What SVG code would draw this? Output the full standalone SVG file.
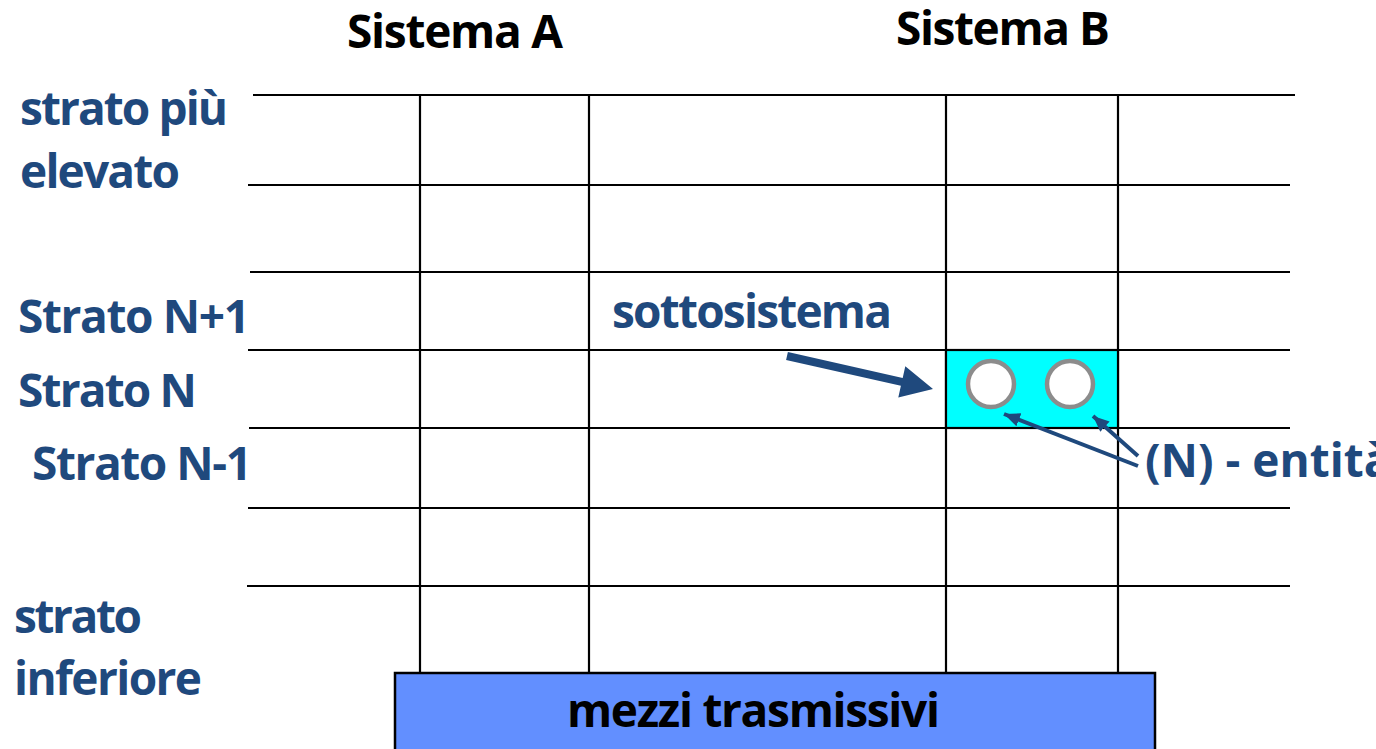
<svg xmlns="http://www.w3.org/2000/svg" width="1376" height="749" viewBox="0 0 1376 749">
<defs>
<style>
.t{font-family:"Open Sans","Noto Sans","DejaVu Sans",sans-serif;font-weight:bold;font-size:46px;fill:#1F497D}
.k{fill:#000}
.g{stroke:#000;stroke-width:2.2;fill:none}
.ent{fill:#fff;stroke:#8C8C8C;stroke-width:4.5}
.pt{stroke:#1F497D;stroke-width:4;fill:none}
</style>
<marker id="ah" markerUnits="userSpaceOnUse" markerWidth="20" markerHeight="16" refX="16" refY="8" orient="auto">
<path d="M0,1 L16,8 L0,15 Z" fill="#1F497D"/>
</marker>
</defs>
<rect width="1376" height="749" fill="#fff"/>
<g id="grid">
<line class="g" x1="253" y1="95" x2="1295" y2="95"/>
<line class="g" x1="248" y1="185" x2="1290" y2="185"/>
<line class="g" x1="250" y1="272" x2="1290" y2="272"/>
<line class="g" x1="248" y1="350" x2="1290" y2="350"/>
<line class="g" x1="249" y1="428" x2="1290" y2="428"/>
<line class="g" x1="248" y1="508" x2="1290" y2="508"/>
<line class="g" x1="247" y1="586" x2="1290" y2="586"/>
<line class="g" x1="420" y1="95" x2="420" y2="674"/>
<line class="g" x1="589" y1="95" x2="589" y2="674"/>
<line class="g" x1="946" y1="95" x2="946" y2="674"/>
<line class="g" x1="1118" y1="95" x2="1118" y2="674"/>
</g>
<g id="sottosistema-box">
<rect x="946" y="350" width="172" height="78" fill="#00FFFF" stroke="#000" stroke-width="2.2"/>
</g>
<g id="entita1"><circle class="ent" cx="991" cy="384" r="23"/></g>
<g id="entita2"><circle class="ent" cx="1070" cy="384" r="23"/></g>
<g id="mezzi">
<rect x="395" y="673" width="760" height="80" fill="#628FFF" stroke="#000" stroke-width="2.5"/>
<text class="t k" x="567" y="727" textLength="373">mezzi trasmissivi</text>
</g>
<g id="labels">
<text class="t k" x="347" y="48" textLength="216">Sistema A</text>
<text class="t k" x="896" y="45" textLength="214">Sistema B</text>
<text class="t" x="20" y="125" textLength="208">strato più</text>
<text class="t" x="20" y="188" textLength="160">elevato</text>
<text class="t" x="18" y="333" textLength="232">Strato N+1</text>
<text class="t" x="18" y="407" textLength="179">Strato N</text>
<text class="t" x="32" y="480" textLength="220">Strato N-1</text>
<text class="t" x="14" y="633" textLength="128">strato</text>
<text class="t" x="14" y="695" textLength="188">inferiore</text>
<text class="t" x="612" y="328" textLength="280">sottosistema</text>
<text class="t" x="1145" y="477">(N) - entità</text>
</g>
<g id="connectors">
<polygon points="787.9,352.1 902.7,378 905.3,366.3 933,389 898.3,397.5 900.9,385.8 786.1,359.9" fill="#1F497D"/>
<line class="pt" x1="1138" y1="466" x2="1004" y2="414" marker-end="url(#ah)"/>
<line class="pt" x1="1138" y1="456" x2="1093" y2="416" marker-end="url(#ah)"/>
</g>
</svg>
